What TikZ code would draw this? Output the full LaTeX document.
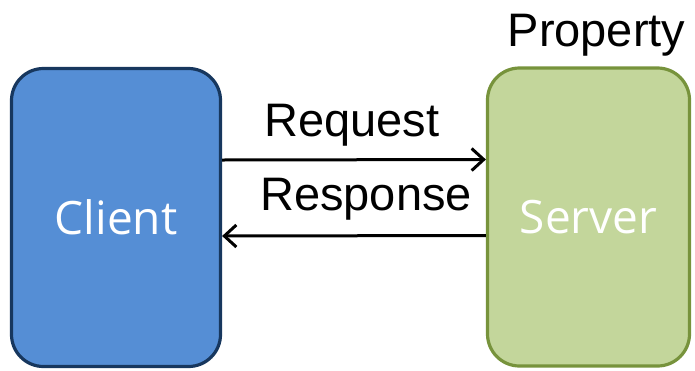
\documentclass[tikz,border=0pt]{standalone}
\usepackage{fontspec}
\setmainfont{Liberation Sans}
\newfontfamily\boxfont{Open Sans}
\usetikzlibrary{positioning,arrows.meta}

\definecolor{clientblue}{HTML}{558ED5}
\definecolor{clientline}{HTML}{17375E}
\definecolor{servergreen}{HTML}{C3D69B}
\definecolor{serverline}{HTML}{77933C}

\begin{document}
\begin{tikzpicture}[x=0.5pt, y=-0.5pt,
    box/.style={rectangle, rounded corners=16pt, line width=1.6pt, minimum height=149pt,
                text=white, font=\boxfont\fontsize{23}{28}\selectfont},
    msg/.style={line width=1.5pt, -{Straight Barb[length=6pt,width=11pt]}},
    lbl/.style={font=\fontsize{23.5}{28}\selectfont, inner sep=0pt}]
    \useasboundingbox (0,0) rectangle (695,370);
    \node[box, minimum width=104.5pt, fill=clientblue, draw=clientline] (client) at (116,217.5) {Client};
    \node[box, minimum width=101pt, fill=servergreen, draw=serverline] (server) at (588.5,217) {Server};
    \node[lbl, above=5pt of server.north, xshift=4pt] (property) {Property};
    \draw[msg] ([yshift=28.75pt]client.east) -- ([yshift=28.75pt]server.west)
        node[lbl, midway, above=6pt, xshift=-1pt] (request) {Request};
    \draw[msg] ([yshift=-9.25pt]server.west) -- ([yshift=-9.25pt]client.east)
        node[lbl, midway, above=7pt, xshift=6pt] (response) {Response};
\end{tikzpicture}
\end{document}
